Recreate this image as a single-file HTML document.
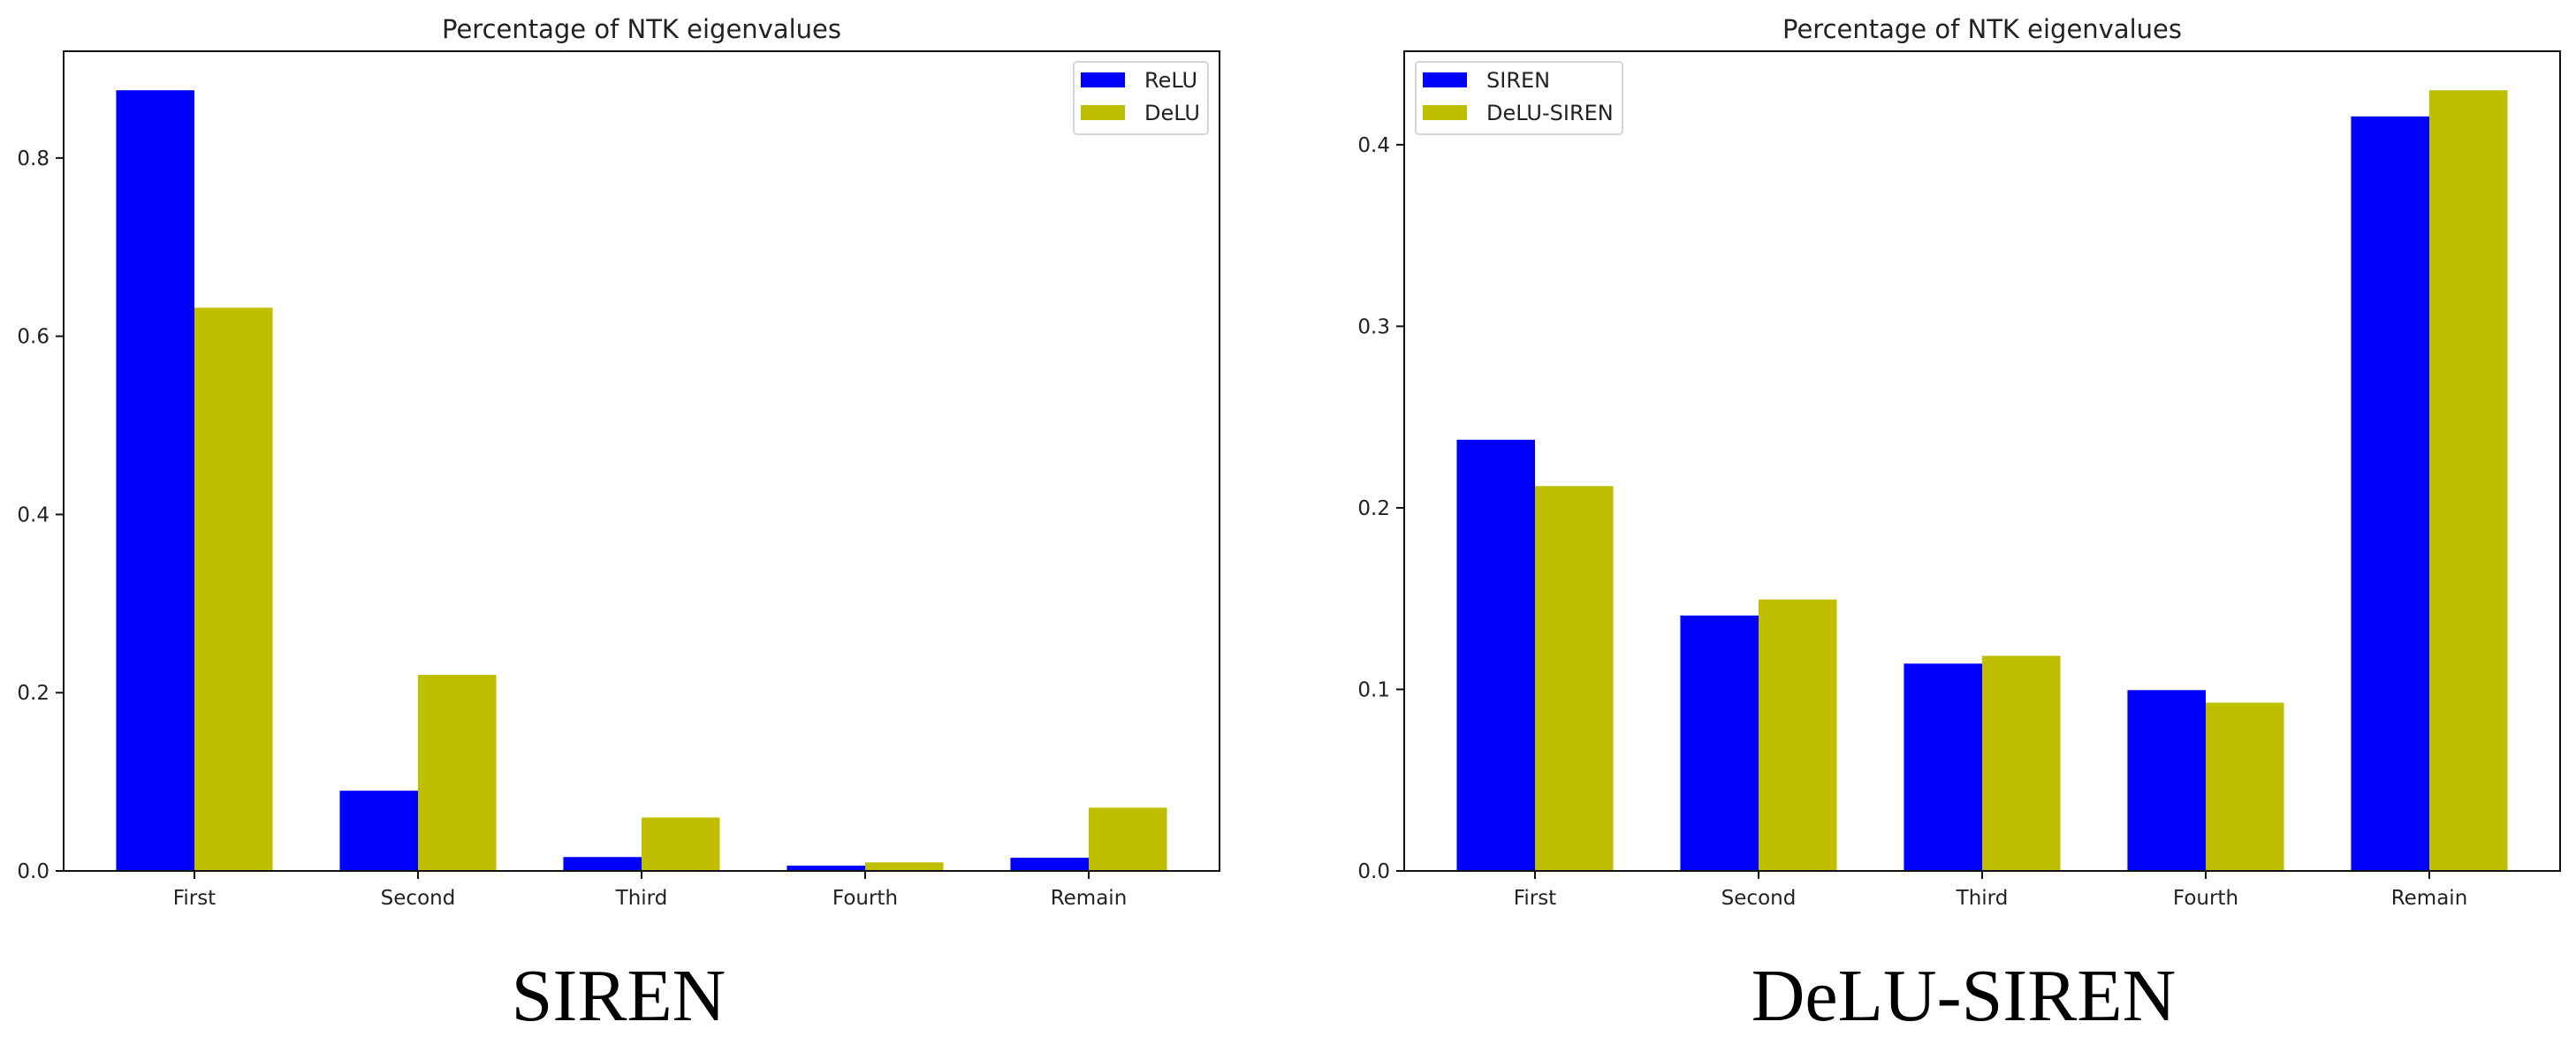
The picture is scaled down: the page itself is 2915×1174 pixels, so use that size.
<!DOCTYPE html>
<html><head><meta charset="utf-8"><style>
html,body{margin:0;padding:0;background:#fff;}
svg{display:block;}
text{font-family:"DejaVu Sans","Liberation Sans",sans-serif;fill:#222;}
</style></head><body>
<svg id="fig" width="2915" height="1174" viewBox="0 0 2915 1174" xmlns="http://www.w3.org/2000/svg"></svg>
<script>
const categories = ["First","Second","Third","Fourth","Remain"];
const leftReLU = [0.876, 0.090, 0.0156, 0.006, 0.0148];
const leftDeLU = [0.632, 0.220, 0.060, 0.0096, 0.071];
const rightSIREN = [0.2375, 0.1407, 0.1142, 0.0996, 0.4156];
const rightDeLUSIREN = [0.212, 0.1495, 0.1185, 0.0927, 0.430];
const leftTicks = [0.0, 0.2, 0.4, 0.6, 0.8];
const rightTicks = [0.0, 0.1, 0.2, 0.3, 0.4];
const leftLegend = ["ReLU","DeLU"];
const rightLegend = ["SIREN","DeLU-SIREN"];

const NS = "http://www.w3.org/2000/svg";
const fig = document.getElementById('fig');
function mk(tag, attrs, parent){
  const e = document.createElementNS(NS, tag);
  for (const k in attrs) e.setAttribute(k, attrs[k]);
  parent.appendChild(e);
  return e;
}

function panel(opts){
  const g = mk('g', {}, fig);
  
  
  const L = opts.x0, R = opts.x1, T = 58, B = 986;
  const allVals = opts.s1.concat(opts.s2);
  const ymax = Math.max(...allVals) * 1.05;
  const n = categories.length, w = 0.35;
  const xmin = -w - (n - 1 + 2 * w) * 0.05, xmax = n - 1 + w + (n - 1 + 2 * w) * 0.05;
  const xs = v => L + (v - xmin) / (xmax - xmin) * (R - L);
  const ys = v => B - v / ymax * (B - T);

  const t = mk('text', {x: (L + R) / 2, y: 43, 'text-anchor': 'middle', 'font-size': 29}, g);
  t.textContent = 'Percentage of NTK eigenvalues';
  
  

  const colors = ['#0000ff', '#bfbf00'];
  [opts.s1, opts.s2].forEach((series, si) => {
    series.forEach((v, i) => {
      const xl = si === 0 ? xs(i - w) : xs(i);
      const r = mk('rect', {x: xl, y: ys(v), width: xs(i + w) - xs(i), height: B - ys(v), fill: colors[si]}, g);
      
      
    });
  });

  const frame = mk('rect', {x: L, y: T, width: R - L, height: B - T, fill: 'none', stroke: '#111', 'stroke-width': 2}, g);
  
  

  opts.ticks.forEach(tv => {
    const y = ys(tv);
    mk('line', {x1: L - 9, x2: L, y1: y, y2: y, stroke: '#111', 'stroke-width': 2}, g);
    const lab = mk('text', {x: L - 16, y: y + 8, 'text-anchor': 'end', 'font-size': 23}, g);
    lab.textContent = tv.toFixed(1);
    
    
  });
  categories.forEach((c, i) => {
    const x = xs(i);
    mk('line', {x1: x, x2: x, y1: B, y2: B + 9, stroke: '#111', 'stroke-width': 2}, g);
    const lab = mk('text', {x: x, y: B + 38, 'text-anchor': 'middle', 'font-size': 23}, g);
    lab.textContent = c;
    
    
  });

  const lg = mk('g', {}, g);
  
  
  mk('rect', {x: opts.lx, y: 70, width: opts.lw, height: 82, rx: 4, fill: '#fff', 'fill-opacity': 0.8, stroke: '#d6d6d6', 'stroke-width': 2}, lg);
  opts.legend.forEach((name, k) => {
    const py = 82 + k * 37;
    mk('rect', {x: opts.lx + 8, y: py, width: 50, height: 17, fill: colors[k]}, lg);
    const tx = mk('text', {x: opts.lx + 80, y: py + 17, 'font-size': 24}, lg);
    tx.textContent = name;
    
    
  });

  const cap = mk('text', {x: opts.capX, y: 1155, 'text-anchor': 'middle', 'font-size': 84, style: 'font-family:"Liberation Serif","DejaVu Serif",serif;fill:#000'}, g);
  cap.textContent = opts.caption;
  
  
}

panel({name: 'siren-chart', x0: 72, x1: 1380, s1: leftReLU, s2: leftDeLU, ticks: leftTicks, legend: leftLegend, lx: 1215, lw: 152, caption: 'SIREN', capX: 700});
panel({name: 'delu-siren-chart', x0: 1589, x1: 2897, s1: rightSIREN, s2: rightDeLUSIREN, ticks: rightTicks, legend: rightLegend, lx: 1602, lw: 234, caption: 'DeLU-SIREN', capX: 2222});
</script>
</body></html>
